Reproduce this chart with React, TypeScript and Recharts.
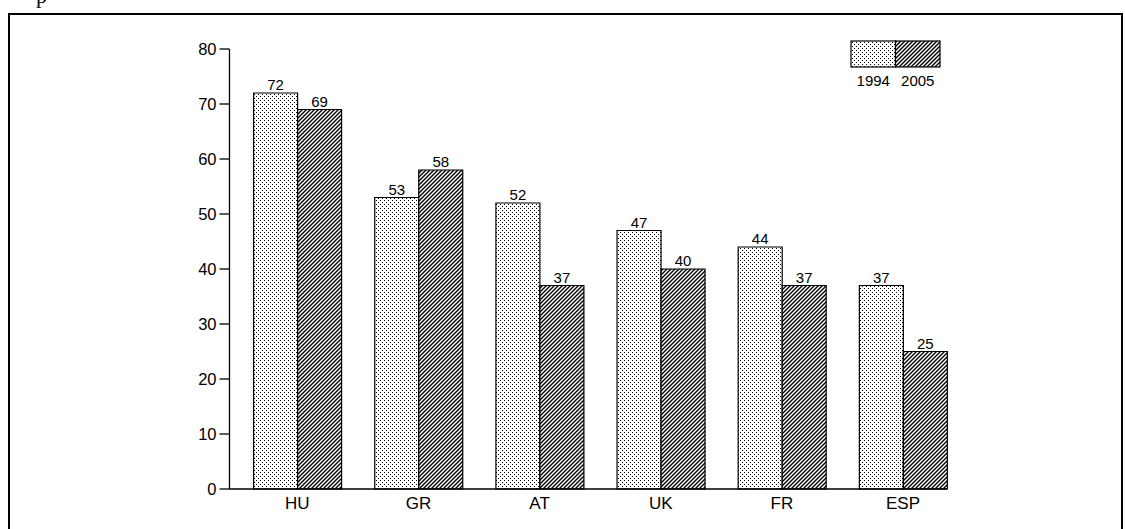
import React from 'react';
import { BarChart, Bar, XAxis, YAxis, LabelList } from 'recharts';

const countries = ['HU', 'GR', 'AT', 'UK', 'FR', 'ESP'];
const values1994 = [72, 53, 52, 47, 44, 37];
const values2005 = [69, 58, 37, 40, 37, 25];
const yTicks = [0, 10, 20, 30, 40, 50, 60, 70, 80];
const seriesNames = ['1994', '2005'];

const data = countries.map((c, i) => ({ country: c, v1994: values1994[i], v2005: values2005[i] }));

const Patterns = ({ prefix }: { prefix: string }) => (
  <defs>
    <pattern id={`${prefix}dots`} width="4" height="4" patternUnits="userSpaceOnUse">
      <rect width="4" height="4" fill="#fff" />
      <rect x="0" y="0" width="1" height="1" fill="#000" />
      <rect x="2" y="2" width="1" height="1" fill="#000" />
    </pattern>
    <pattern id={`${prefix}hatch`} width="4" height="4" patternUnits="userSpaceOnUse">
      <rect width="4" height="4" fill="#fff" />
      <path d="M-1,1 l2,-2 M0,4 l4,-4 M3,5 l2,-2" stroke="#000" strokeWidth="1.4" />
    </pattern>
  </defs>
);

export default function App() {
  const font = '"Liberation Sans", Arial, sans-serif';
  return (
    <div style={{ position: 'absolute', left: 0, top: 0, width: 1125, height: 529, overflow: 'hidden', fontFamily: font, background: '#fff' }}>
      <div
        style={{
          position: 'absolute',
          left: 36,
          top: -15,
          fontFamily: '"Liberation Serif", serif',
          fontSize: 22,
          lineHeight: 1,
          color: '#000',
        }}
      >
        p
      </div>
      <div
        style={{
          position: 'absolute',
          left: 8,
          top: 12.5,
          width: 1115,
          height: 520,
          boxSizing: 'border-box',
          borderTop: '2px solid #000',
          borderLeft: '2px solid #000',
          borderRight: '2px solid #000',
        }}
      />
      <div style={{ position: 'absolute', left: 0, top: 0 }}>
        <BarChart
          width={1125}
          height={529}
          data={data}
          margin={{ top: 49, right: 178, bottom: 10, left: 169.5 }}
          barGap={0}
          barCategoryGap={16.9}
        >
          <Patterns prefix="c" />
          <XAxis
            dataKey="country"
            tickLine={false}
            axisLine={{ stroke: '#000', strokeWidth: 1.3 }}
            tick={{ fill: '#000', fontSize: 17 }}
            padding={{ left: 7.2, right: -16.6 }}
            height={30}
            interval={0}
          />
          <YAxis
            type="number"
            domain={[0, 80]}
            ticks={yTicks}
            interval={0}
            width={60}
            tickSize={10}
            tickMargin={3}
            axisLine={{ stroke: '#000', strokeWidth: 1.3 }}
            tickLine={{ stroke: '#000', strokeWidth: 1.3 }}
            tick={{ fill: '#000', fontSize: 16.5 }}
          />
          <Bar dataKey="v1994" name={seriesNames[0]} fill="url(#cdots)" stroke="#000" strokeWidth={1.2} isAnimationActive={false}>
            <LabelList dataKey="v1994" position="top" offset={3} fill="#000" fontSize={15} />
          </Bar>
          <Bar dataKey="v2005" name={seriesNames[1]} fill="url(#chatch)" stroke="#000" strokeWidth={1.2} isAnimationActive={false}>
            <LabelList dataKey="v2005" position="top" offset={3} fill="#000" fontSize={15} />
          </Bar>
        </BarChart>
      </div>
      <svg style={{ position: 'absolute', left: 850, top: 40 }} width={92} height={50}>
        <Patterns prefix="l" />
        <rect x={1} y={1} width={44.5} height={26} fill="url(#ldots)" stroke="#000" strokeWidth={1.2} />
        <rect x={45.5} y={1} width={44.5} height={26} fill="url(#lhatch)" stroke="#000" strokeWidth={1.2} />
        <text x={23.25} y={45.5} textAnchor="middle" fontSize={15} fill="#000">{seriesNames[0]}</text>
        <text x={67.75} y={45.5} textAnchor="middle" fontSize={15} fill="#000">{seriesNames[1]}</text>
      </svg>
    </div>
  );
}
